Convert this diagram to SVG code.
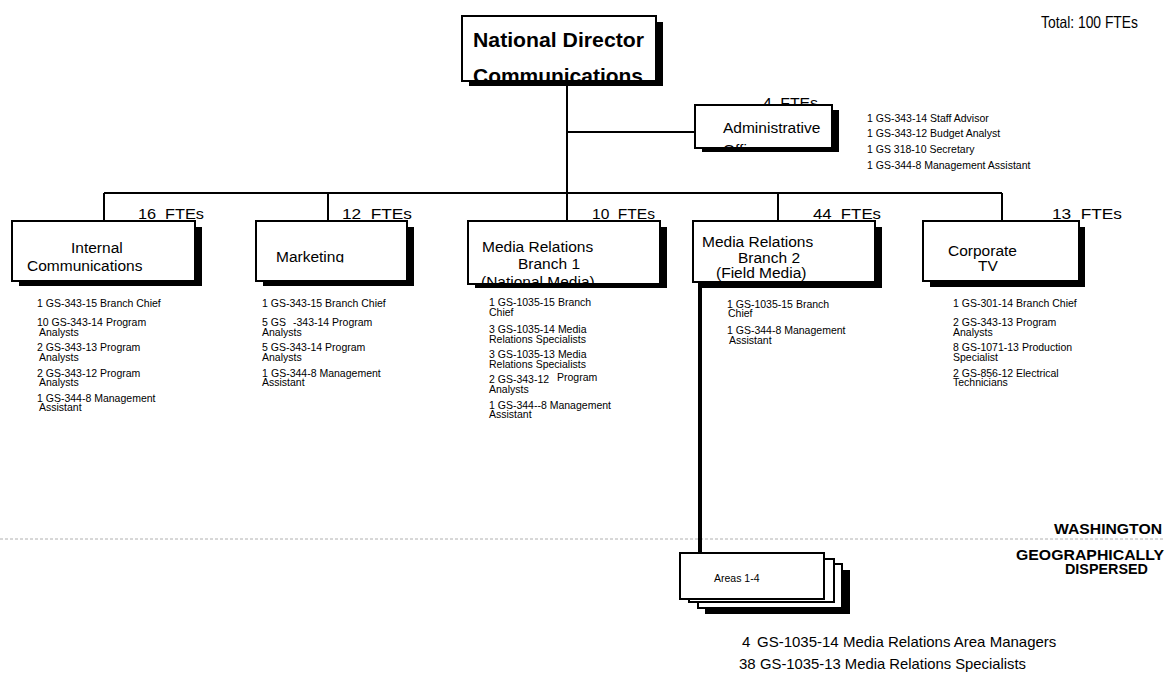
<svg xmlns="http://www.w3.org/2000/svg" width="1165" height="673" viewBox="0 0 1165 673">
<style>
text{font-family:"Liberation Sans",Arial,sans-serif;fill:#000}
.box{fill:#fff;stroke:#000;stroke-width:2}
.sh{fill:#000}
.lbl{font-size:15.5px}
.fte{font-size:15px;word-spacing:4px}
.ttl{font-size:21px;font-weight:bold}
.li{font-size:10.5px}
.geo{font-size:15px;font-weight:bold}
.big{font-size:15px}
.con{stroke:#000;stroke-width:2;fill:none}
</style>
<defs>
<clipPath id="cND"><rect x="462" y="16" width="194" height="64"/></clipPath>
<clipPath id="cAD"><rect x="695" y="105" width="137" height="42"/></clipPath>
<clipPath id="cM1"><rect x="468" y="221" width="192" height="62"/></clipPath>
<clipPath id="cMK"><rect x="256" y="221" width="151" height="41.5"/></clipPath>
</defs>
<rect width="1165" height="673" fill="#fff"/>

<line x1="0" y1="539" x2="1165" y2="539" stroke="#b0b0b0" stroke-width="1" stroke-dasharray="3,2"/>

<g id="connectors">
<line class="con" x1="567" y1="86" x2="567" y2="221"/>
<line class="con" x1="567" y1="132" x2="695" y2="132"/>
<line class="con" x1="104" y1="193" x2="1002" y2="193"/>
<line class="con" x1="104" y1="193" x2="104" y2="221"/>
<line class="con" x1="328" y1="193" x2="328" y2="221"/>
<line class="con" x1="778" y1="193" x2="778" y2="221"/>
<line class="con" x1="1002" y1="193" x2="1002" y2="221"/>
<line x1="700" y1="282" x2="700" y2="554" stroke="#000" stroke-width="4"/>
</g>

<text x="1041" y="28" font-size="16.5" textLength="97" lengthAdjust="spacingAndGlyphs">Total: 100 FTEs</text>

<g id="national-director">
<rect class="sh" x="469" y="22" width="194" height="64"/>
<rect class="box" x="462" y="16" width="194" height="65"/>
<g clip-path="url(#cND)">
<text class="ttl" x="473" y="47" textLength="171" lengthAdjust="spacingAndGlyphs">National Director</text>
<text class="ttl" x="473" y="83" textLength="170" lengthAdjust="spacingAndGlyphs">Communications</text>
</g>
</g>

<g id="administrative-office">
<text class="fte" x="763" y="108" textLength="55" lengthAdjust="spacingAndGlyphs">4 FTEs</text>
<rect class="sh" x="702" y="110" width="137" height="42"/>
<rect class="box" x="695" y="105" width="137" height="43"/>
<g clip-path="url(#cAD)">
<text class="lbl" x="723" y="133">Administrative</text>
<text class="lbl" x="723" y="155">Office</text>
</g>
<text class="li" x="867" y="122">1 GS-343-14 Staff Advisor</text>
<text class="li" x="867" y="137">1 GS-343-12 Budget Analyst</text>
<text class="li" x="867" y="153">1 GS 318-10 Secretary</text>
<text class="li" x="867" y="169">1 GS-344-8 Management Assistant</text>
</g>

<g id="internal-communications">
<text class="fte" x="138" y="219" textLength="66" lengthAdjust="spacingAndGlyphs">16 FTEs</text>
<rect class="sh" x="19" y="227" width="183" height="59"/>
<rect class="box" x="12" y="221" width="183" height="60"/>
<text class="lbl" x="71" y="253">Internal</text>
<text class="lbl" x="27" y="271">Communications</text>
<text class="li" x="37" y="307">1 GS-343-15 Branch Chief</text>
<text class="li" x="37" y="326">10 GS-343-14 Program</text>
<text class="li" x="39" y="335.5">Analysts</text>
<text class="li" x="37" y="351">2 GS-343-13 Program</text>
<text class="li" x="39" y="360.5">Analysts</text>
<text class="li" x="37" y="376.5">2 GS-343-12 Program</text>
<text class="li" x="39" y="385.5">Analysts</text>
<text class="li" x="37" y="401.5">1 GS-344-8 Management</text>
<text class="li" x="39" y="411">Assistant</text>
</g>

<g id="marketing">
<text class="fte" x="342" y="219" textLength="70" lengthAdjust="spacingAndGlyphs">12 FTEs</text>
<rect class="sh" x="263" y="227" width="151" height="59"/>
<rect class="box" x="256" y="221" width="151" height="60"/>
<g clip-path="url(#cMK)"><text class="lbl" x="276" y="262">Marketing</text></g>
<text class="li" x="262" y="307">1 GS-343-15 Branch Chief</text>
<text class="li" x="262" y="326">5 GS<tspan x="293">-343-14 Program</tspan></text>
<text class="li" x="262" y="335.5">Analysts</text>
<text class="li" x="262" y="351">5 GS-343-14 Program</text>
<text class="li" x="262" y="360.5">Analysts</text>
<text class="li" x="262" y="376.5">1<tspan x="271">GS-344-8 Management</tspan></text>
<text class="li" x="262" y="385.5">Assistant</text>
</g>

<g id="media-relations-1">
<text class="fte" x="592" y="219" textLength="63" lengthAdjust="spacingAndGlyphs">10 FTEs</text>
<rect class="sh" x="475" y="227" width="192" height="61"/>
<rect class="box" x="468" y="221" width="192" height="63"/>
<g clip-path="url(#cM1)">
<text class="lbl" x="482" y="252">Media Relations</text>
<text class="lbl" x="518" y="269">Branch 1</text>
<text class="lbl" x="481" y="287">(National Media)</text>
</g>
<text class="li" x="489" y="306">1 GS-1035-15 Branch</text>
<text class="li" x="489" y="316">Chief</text>
<text class="li" x="489" y="333">3 GS-1035-14 Media</text>
<text class="li" x="489" y="343">Relations Specialists</text>
<text class="li" x="489" y="358">3 GS-1035-13 Media</text>
<text class="li" x="489" y="368">Relations Specialists</text>
<text class="li" x="489" y="383">2 GS-343-12<tspan x="557" dy="-2">Program</tspan></text>
<text class="li" x="489" y="393">Analysts</text>
<text class="li" x="489" y="409">1 GS-344--8 Management</text>
<text class="li" x="489" y="418">Assistant</text>
</g>

<g id="media-relations-2">
<text class="fte" x="813" y="219" textLength="68" lengthAdjust="spacingAndGlyphs">44 FTEs</text>
<rect class="sh" x="700" y="227" width="182" height="61"/>
<rect class="box" x="693" y="221" width="182" height="61"/>
<text class="lbl" x="702" y="247">Media Relations</text>
<text class="lbl" x="738" y="263">Branch 2</text>
<text class="lbl" x="716" y="278">(Field Media)</text>
<text class="li" x="727" y="308">1 GS-1035-15 Branch</text>
<text class="li" x="728" y="317">Chief</text>
<text class="li" x="727" y="334">1 GS-344-8 Management</text>
<text class="li" x="729" y="344">Assistant</text>
</g>

<g id="corporate-tv">
<text class="fte" x="1052" y="219" textLength="70" lengthAdjust="spacingAndGlyphs">13 FTEs</text>
<rect class="sh" x="930" y="227" width="155" height="60"/>
<rect class="box" x="923" y="221" width="156" height="60"/>
<text class="lbl" x="948" y="256">Corporate</text>
<text class="lbl" x="978" y="271">TV</text>
<text class="li" x="953" y="307">1 GS-301-14 Branch Chief</text>
<text class="li" x="953" y="326">2 GS-343-13 Program</text>
<text class="li" x="953" y="335.5">Analysts</text>
<text class="li" x="953" y="351">8 GS-1071-13 Production</text>
<text class="li" x="953" y="360.5">Specialist</text>
<text class="li" x="953" y="376.5">2 GS-856-12 Electrical</text>
<text class="li" x="953" y="385.5">Technicians</text>
</g>

<g id="areas">
<rect class="sh" x="705" y="570" width="145" height="44"/>
<rect class="box" x="698" y="564" width="144" height="44"/>
<rect class="box" x="689" y="559" width="145" height="43"/>
<rect class="box" x="680" y="553" width="144" height="46"/>
<text class="li" x="714" y="582">Areas 1-4</text>
<text class="big" x="742" y="647">4</text>
<text class="big" x="757" y="647">GS-1035-14 Media Relations Area Managers</text>
<text class="big" x="739" y="669">38</text>
<text class="big" x="760" y="669" textLength="266" lengthAdjust="spacingAndGlyphs">GS-1035-13 Media Relations Specialists</text>
</g>

<text class="geo" x="1054" y="534" textLength="108" lengthAdjust="spacingAndGlyphs">WASHINGTON</text>
<text class="geo" x="1016" y="560" textLength="148" lengthAdjust="spacingAndGlyphs">GEOGRAPHICALLY</text>
<text class="geo" x="1065" y="574" textLength="83" lengthAdjust="spacingAndGlyphs">DISPERSED</text>
</svg>
